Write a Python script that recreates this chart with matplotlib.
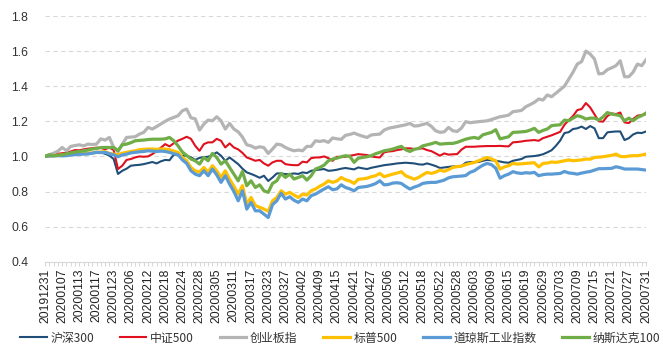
import matplotlib
matplotlib.use("Agg")
import matplotlib.pyplot as plt
import numpy as np

tick_labels = ["20191231", "20200107", "20200113", "20200117", "20200123", "20200206",
               "20200212", "20200218", "20200224", "20200228", "20200305", "20200311",
               "20200317", "20200323", "20200327", "20200402", "20200409", "20200415",
               "20200421", "20200427", "20200506", "20200512", "20200518", "20200522",
               "20200528", "20200603", "20200609", "20200615", "20200619", "20200629",
               "20200703", "20200709", "20200715", "20200721", "20200727", "20200731"]
label_step = 4

series_names = ["沪深300", "中证500", "创业板指", "标普500", "道琼斯工业指数", "纳斯达克100"]

hs300 = [1.000, 1.004, 1.010, 1.012, 1.010, 1.012, 1.015, 1.013, 1.016, 1.018, 1.015, 1.020, 1.023, 1.022, 1.015, 1.005, 0.985,
         0.900, 0.918, 0.930, 0.947, 0.950, 0.952, 0.956, 0.962, 0.968, 0.960, 0.972, 0.980, 0.978,
         1.010, 1.006, 1.004, 1.004, 0.995, 0.980, 0.992, 0.996, 0.998, 1.008,
         1.023, 1.004, 0.975, 0.994, 0.975, 0.956, 0.930, 0.909, 0.900, 0.890,
         0.878, 0.890, 0.860, 0.880, 0.903, 0.903, 0.899, 0.899, 0.903, 0.900,
         0.909, 0.905, 0.918, 0.922, 0.925, 0.928, 0.918, 0.920, 0.924, 0.930,
         0.934, 0.930, 0.926, 0.937, 0.932, 0.928, 0.935, 0.940, 0.945, 0.950,
         0.953, 0.956, 0.960, 0.962, 0.964, 0.962, 0.960, 0.955, 0.953, 0.960,
         0.953, 0.945, 0.934, 0.937, 0.940, 0.943, 0.942, 0.944, 0.964, 0.968,
         0.968, 0.968, 0.975, 0.980, 0.978, 0.975, 0.971, 0.966, 0.964, 0.975,
         0.980, 0.985, 0.998, 1.000, 1.002, 1.006, 1.012, 1.023, 1.035, 1.060,
         1.090, 1.133, 1.138, 1.156, 1.160, 1.170, 1.156, 1.173, 1.160, 1.104,
         1.104, 1.137, 1.140, 1.142, 1.142, 1.093, 1.104, 1.125, 1.135, 1.133, 1.142]

csi500 = [1.000, 1.008, 1.012, 1.015, 1.018, 1.020, 1.028, 1.036, 1.035, 1.040, 1.044, 1.047, 1.050, 1.048, 1.041, 1.050, 1.036,
          0.928, 0.947, 0.980, 0.985, 0.994, 1.000, 0.998, 1.000, 1.013, 1.030, 1.050, 1.070, 1.057,
          1.075, 1.090, 1.100, 1.112, 1.100, 1.060, 1.032, 1.070, 1.080, 1.080,
          1.100, 1.089, 1.051, 1.074, 1.051, 1.040, 1.020, 0.994, 0.985, 0.975,
          0.980, 0.960, 0.947, 0.966, 0.975, 0.975, 0.956, 0.952, 0.950, 0.950,
          0.970, 0.966, 0.990, 0.994, 0.994, 1.000, 0.990, 0.975, 0.998, 0.996,
          0.998, 1.004, 1.008, 1.013, 1.010, 1.008, 1.000, 0.996, 0.994, 1.023,
          1.028, 1.030, 1.036, 1.040, 1.046, 1.046, 1.042, 1.044, 1.046, 1.036,
          1.030, 1.017, 1.004, 1.017, 1.010, 1.012, 1.013, 1.038, 1.055, 1.055,
          1.055, 1.057, 1.058, 1.059, 1.059, 1.059, 1.060, 1.058, 1.057, 1.080,
          1.082, 1.085, 1.089, 1.091, 1.093, 1.089, 1.104, 1.112, 1.120, 1.130,
          1.140, 1.180, 1.207, 1.230, 1.264, 1.270, 1.304, 1.279, 1.240, 1.200,
          1.198, 1.230, 1.245, 1.241, 1.250, 1.194, 1.190, 1.213, 1.232, 1.236, 1.240]

chinext = [1.000, 1.010, 1.018, 1.030, 1.051, 1.032, 1.057, 1.062, 1.066, 1.060, 1.070, 1.068, 1.070, 1.100, 1.093, 1.108, 1.051,
           1.028, 1.070, 1.108, 1.110, 1.112, 1.127, 1.137, 1.165, 1.156, 1.170, 1.185, 1.200, 1.213,
           1.222, 1.232, 1.260, 1.270, 1.220, 1.214, 1.150, 1.184, 1.207, 1.203,
           1.226, 1.203, 1.156, 1.188, 1.156, 1.140, 1.110, 1.066, 1.060, 1.047,
           1.055, 1.050, 1.017, 1.042, 1.070, 1.066, 1.051, 1.040, 1.032, 1.036,
           1.032, 1.057, 1.057, 1.089, 1.085, 1.090, 1.080, 1.105, 1.100, 1.097,
           1.120, 1.125, 1.133, 1.123, 1.115, 1.108, 1.122, 1.125, 1.127, 1.150,
           1.160, 1.165, 1.170, 1.175, 1.180, 1.188, 1.173, 1.175, 1.182, 1.188,
           1.171, 1.146, 1.137, 1.140, 1.165, 1.146, 1.142, 1.161, 1.198, 1.192,
           1.195, 1.198, 1.200, 1.203, 1.210, 1.218, 1.226, 1.230, 1.235, 1.255,
           1.258, 1.262, 1.283, 1.295, 1.308, 1.327, 1.321, 1.350, 1.340, 1.360,
           1.380, 1.400, 1.440, 1.480, 1.526, 1.540, 1.600, 1.583, 1.555, 1.470,
           1.473, 1.494, 1.505, 1.517, 1.545, 1.454, 1.454, 1.480, 1.526, 1.517, 1.550]

sp500 = [1.000, 1.002, 1.004, 1.006, 1.008, 1.009, 1.011, 1.013, 1.015, 1.016, 1.017, 1.020, 1.023, 1.025, 1.027, 1.017, 1.013,
         1.010, 1.018, 1.023, 1.028, 1.032, 1.038, 1.040, 1.042, 1.042, 1.040, 1.042, 1.042, 1.038,
         1.030, 1.023, 0.994, 0.975, 0.937, 0.918, 0.910, 0.937, 0.910, 0.947,
         0.918, 0.880, 0.918, 0.870, 0.830, 0.785, 0.833, 0.728, 0.766, 0.720,
         0.710, 0.700, 0.687, 0.747, 0.766, 0.804, 0.785, 0.795, 0.780, 0.766,
         0.785, 0.780, 0.804, 0.814, 0.830, 0.842, 0.861, 0.852, 0.860, 0.880,
         0.867, 0.860, 0.846, 0.870, 0.872, 0.876, 0.884, 0.890, 0.903, 0.884,
         0.892, 0.899, 0.905, 0.913, 0.890, 0.880, 0.870, 0.880, 0.895, 0.909,
         0.903, 0.910, 0.922, 0.915, 0.925, 0.937, 0.942, 0.945, 0.953, 0.960,
         0.965, 0.975, 0.985, 0.994, 0.985, 0.975, 0.928, 0.940, 0.947, 0.960,
         0.956, 0.958, 0.960, 0.962, 0.964, 0.940, 0.960, 0.962, 0.968, 0.966,
         0.970, 0.975, 0.980, 0.975, 0.978, 0.980, 0.985, 0.984, 0.994, 0.996,
         0.998, 1.002, 1.006, 1.013, 1.000, 0.998, 1.002, 1.004, 1.004, 1.008, 1.013]

dow = [1.000, 1.002, 1.003, 1.004, 1.003, 1.004, 1.008, 1.010, 1.012, 1.013, 1.014, 1.018, 1.023, 1.022, 1.023, 1.015, 1.009,
       0.998, 1.008, 1.013, 1.020, 1.023, 1.026, 1.028, 1.032, 1.030, 1.028, 1.030, 1.028, 1.023,
       1.015, 1.009, 0.980, 0.960, 0.918, 0.899, 0.890, 0.918, 0.890, 0.928,
       0.895, 0.852, 0.890, 0.842, 0.800, 0.747, 0.804, 0.700, 0.738, 0.690,
       0.690, 0.671, 0.652, 0.725, 0.747, 0.790, 0.757, 0.770, 0.750, 0.738,
       0.757, 0.747, 0.776, 0.785, 0.800, 0.814, 0.827, 0.810, 0.815, 0.838,
       0.823, 0.815, 0.804, 0.823, 0.826, 0.829, 0.836, 0.845, 0.861, 0.838,
       0.840, 0.848, 0.850, 0.846, 0.829, 0.814, 0.825, 0.833, 0.846, 0.850,
       0.852, 0.852, 0.858, 0.865, 0.878, 0.884, 0.886, 0.888, 0.891, 0.909,
       0.918, 0.935, 0.950, 0.960, 0.953, 0.933, 0.876, 0.890, 0.899, 0.913,
       0.906, 0.903, 0.907, 0.905, 0.909, 0.890, 0.896, 0.899, 0.899, 0.901,
       0.903, 0.914, 0.906, 0.903, 0.899, 0.905, 0.910, 0.914, 0.922, 0.930,
       0.930, 0.931, 0.932, 0.941, 0.936, 0.928, 0.928, 0.928, 0.928, 0.925, 0.922]

ndx100 = [1.000, 1.009, 1.004, 1.006, 1.009, 1.015, 1.020, 1.025, 1.028, 1.032, 1.036, 1.042, 1.045, 1.050, 1.051, 1.051, 1.051,
          1.032, 1.066, 1.070, 1.078, 1.089, 1.091, 1.093, 1.096, 1.098, 1.098, 1.098, 1.100, 1.108,
          1.089, 1.060, 1.025, 1.005, 0.985, 0.975, 0.956, 0.994, 0.975, 1.017,
          0.994, 0.956, 0.975, 0.937, 0.900, 0.861, 0.914, 0.833, 0.861, 0.823,
          0.838, 0.804, 0.795, 0.846, 0.861, 0.903, 0.880, 0.899, 0.871, 0.880,
          0.890, 0.865, 0.890, 0.928, 0.937, 0.950, 0.975, 0.985, 0.990, 0.998,
          1.004, 1.000, 0.966, 0.990, 0.994, 0.998, 1.004, 1.015, 1.023, 1.032,
          1.036, 1.042, 1.050, 1.057, 1.038, 1.028, 1.040, 1.045, 1.060, 1.066,
          1.072, 1.080, 1.070, 1.072, 1.074, 1.074, 1.080, 1.089, 1.098, 1.104,
          1.108, 1.102, 1.123, 1.130, 1.137, 1.152, 1.100, 1.106, 1.112, 1.137,
          1.138, 1.140, 1.142, 1.150, 1.160, 1.137, 1.148, 1.156, 1.175, 1.178,
          1.180, 1.207, 1.203, 1.218, 1.232, 1.225, 1.213, 1.218, 1.218, 1.207,
          1.225, 1.250, 1.241, 1.237, 1.232, 1.203, 1.218, 1.203, 1.222, 1.232, 1.247]

all_series = [hs300, csi500, chinext, sp500, dow, ndx100]
colors = ["#1F4E79", "#E0101E", "#B4B4B4", "#FFC000", "#5B9BD5", "#70AD47"]
widths = [1.5, 1.5, 2.3, 2.3, 2.3, 2.3]

plt.rcParams['font.family'] = ['Liberation Sans', 'Noto Sans CJK SC', 'DejaVu Sans']

fig = plt.figure(figsize=(6.63, 3.57), dpi=100)
ax = fig.add_axes([45 / 663, 1 - 261.7 / 357, (646 - 45) / 663, (261.7 - 16) / 357])

x = np.arange(len(hs300))
lines = []
for name, vals, c, w in zip(series_names, all_series, colors, widths):
    ln, = ax.plot(x, vals, color=c, lw=w, label=name, solid_joinstyle='round', zorder=3)
    lines.append(ln)

ax.set_xlim(0, len(hs300) - 1)
ax.set_ylim(0.4, 1.8)
yt = np.arange(0.4, 1.81, 0.2)
ax.set_yticks(yt)
ax.set_yticklabels([f"{v:.1f}" for v in yt], fontsize=8.7, color="#333333")
ax.tick_params(axis='y', length=0, pad=12)

ax.set_xticks(np.arange(0, len(hs300), label_step))
ax.set_xticklabels(tick_labels, rotation=90, fontsize=8.7, color="#222222")
ax.set_xticks(x, minor=True)
ax.tick_params(axis='x', which='both', length=3, color="#D0D0D0", width=0.6, pad=2)

ax.grid(axis='y', linestyle=(0, (4, 3)), color="#D9D9D9", lw=0.8)
for s in ['top', 'right', 'left']:
    ax.spines[s].set_visible(False)
ax.spines['bottom'].set_color("#D9D9D9")
ax.spines['bottom'].set_linewidth(0.8)
ax.set_axisbelow(True)

leg = fig.legend(handles=lines, loc='center', bbox_to_anchor=(0.513, 0.053), ncol=6,
                 frameon=False, handlelength=2.25, handletextpad=0.3,
                 columnspacing=2.15, borderpad=0.0, borderaxespad=0.0,
                 prop={'family': ['Noto Sans CJK SC', 'DejaVu Sans'], 'size': 8.6})
for t in leg.get_texts():
    t.set_color("#333333")

fig.savefig("out.png", dpi=100)
